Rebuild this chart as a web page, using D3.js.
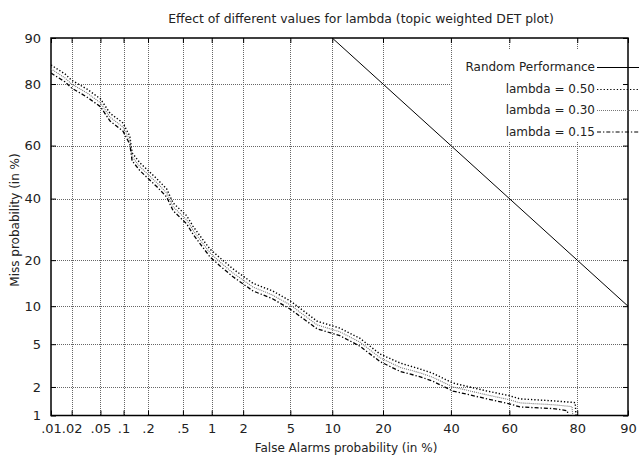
<!DOCTYPE html>
<html>
<head>
<meta charset="utf-8">
<script src="https://cdn.jsdelivr.net/npm/d3@7/dist/d3.min.js"></script>
<style>
  body { margin: 0; background: #fff; }
  svg text { font-family: "DejaVu Sans", sans-serif; font-size: 12px; fill: #222; }
</style>
</head>
<body>
<div id="chart"></div>
<script>
// DET plot, probit (normal deviate) scales on both axes

// Data (percent values)
// ==========================================
var faTicks = [0.01, 0.02, 0.05, 0.1, 0.2, 0.5, 1, 2, 5, 10, 20, 40, 60, 80, 90];
var faLabels = [".01", ".02", ".05", ".1", ".2", ".5", "1", "2", "5", "10", "20", "40", "60", "80", "90"];
var missTicks = [1, 2, 5, 10, 20, 40, 60, 80, 90];
var missLabels = ["1", "2", "5", "10", "20", "40", "60", "80", "90"];

var seriesNames = ["Random Performance", "lambda = 0.50", "lambda = 0.30", "lambda = 0.15"];

var randomFa = [10, 90];
var randomMiss = [90, 10];

var fa050 = [0.01, 0.016, 0.02, 0.033, 0.05, 0.067, 0.098, 0.12, 0.128, 0.16, 0.255, 0.33, 0.39, 0.55, 0.64, 0.76, 0.96, 1.21, 1.6, 2.45, 3.6, 5, 7.9, 11.2, 14.9, 19.3, 24.4, 30, 34, 40.7, 52, 60, 63.5, 73.6, 79.5, 79.7];
var miss050 = [84.7, 82.6, 81.0, 78.6, 75.8, 71.3, 68.1, 63.4, 57.3, 53.5, 47.4, 43.6, 38.4, 33.8, 30.3, 27.1, 23.1, 20.6, 17.8, 14.4, 12.8, 10.9, 7.7, 6.8, 5.6, 4.1, 3.4, 3.0, 2.73, 2.19, 1.83, 1.63, 1.51, 1.44, 1.38, 1.0];

var fa030 = [0.01, 0.016, 0.02, 0.033, 0.05, 0.067, 0.098, 0.12, 0.128, 0.16, 0.255, 0.33, 0.39, 0.55, 0.64, 0.76, 0.96, 1.21, 1.6, 2.45, 3.6, 5, 7.9, 11.2, 14.9, 19.3, 24.4, 30, 34, 40.7, 52, 60, 63.5, 73.6, 78.7, 78.9];
var miss030 = [83.8, 81.6, 80, 77.5, 74.6, 70, 66.7, 62, 55.8, 52, 45.9, 42.1, 37, 32.4, 29, 25.9, 22, 19.5, 16.8, 13.6, 12, 10.2, 7.2, 6.35, 5.2, 3.8, 3.1, 2.76, 2.5, 2.0, 1.67, 1.48, 1.37, 1.31, 1.25, 1.0];

var fa015 = [0.01, 0.016, 0.02, 0.033, 0.05, 0.067, 0.098, 0.12, 0.128, 0.16, 0.255, 0.33, 0.39, 0.55, 0.64, 0.76, 0.96, 1.21, 1.6, 2.45, 3.6, 5, 7.9, 11.2, 14.9, 19.3, 24.4, 30, 34, 40.7, 52, 60, 63.5, 73.6, 77.5, 77.7];
var miss015 = [82.8, 80.6, 78.9, 76.3, 73.4, 68.7, 65.3, 60.5, 54.3, 50.5, 44.4, 40.6, 35.6, 31.0, 27.7, 24.7, 20.9, 18.5, 15.9, 12.8, 11.3, 9.5, 6.7, 5.9, 4.8, 3.5, 2.84, 2.53, 2.29, 1.82, 1.52, 1.34, 1.24, 1.19, 1.13, 1.0];

// Inverse normal CDF (Acklam)
function probit(p) {
    var a = [-3.969683028665376e+01, 2.209460984245205e+02, -2.759285104469687e+02, 1.383577518672690e+02, -3.066479806614716e+01, 2.506628277459239e+00];
    var b = [-5.447609879822406e+01, 1.615858368580409e+02, -1.556989798598866e+02, 6.680131188771972e+01, -1.328068155288572e+01];
    var c = [-7.784894002430293e-03, -3.223964580411365e-01, -2.400758277161838e+00, -2.549732539343734e+00, 4.374664141464968e+00, 2.938163982698783e+00];
    var d = [7.784695709041462e-03, 3.224671290700398e-01, 2.445134137142996e+00, 3.754408661907416e+00];
    var q, r;
    if (p < 0.02425) {
        q = Math.sqrt(-2 * Math.log(p));
        return (((((c[0]*q+c[1])*q+c[2])*q+c[3])*q+c[4])*q+c[5]) / ((((d[0]*q+d[1])*q+d[2])*q+d[3])*q+1);
    }
    if (p > 1 - 0.02425) {
        q = Math.sqrt(-2 * Math.log(1 - p));
        return -(((((c[0]*q+c[1])*q+c[2])*q+c[3])*q+c[4])*q+c[5]) / ((((d[0]*q+d[1])*q+d[2])*q+d[3])*q+1);
    }
    q = p - 0.5; r = q * q;
    return (((((a[0]*r+a[1])*r+a[2])*r+a[3])*r+a[4])*r+a[5])*q / (((((b[0]*r+b[1])*r+b[2])*r+b[3])*r+b[4])*r+1);
}
function pz(pct) { return probit(pct / 100); }

// Layout
var width = 639, height = 455;
var padL = 51, padR = 628, padT = 38, padB = 415.5;

var svg = d3.select("#chart").append("svg")
    .attr("width", width)
    .attr("height", height);

var x = d3.scaleLinear().domain([pz(0.01), pz(90)]).range([padL, padR]);
var y = d3.scaleLinear().domain([pz(1), pz(90)]).range([padB, padT]);

// Grid
svg.append("g").selectAll("line")
    .data(faTicks.slice(1, -1))
    .enter().append("line")
    .attr("x1", d => Math.round(x(pz(d))) + 0.5).attr("x2", d => Math.round(x(pz(d))) + 0.5)
    .attr("y1", padT).attr("y2", padB)
    .attr("stroke", "#666").attr("stroke-dasharray", "1,1");
svg.append("g").selectAll("line")
    .data(missTicks.slice(1, -1))
    .enter().append("line")
    .attr("y1", d => Math.round(y(pz(d))) + 0.5).attr("y2", d => Math.round(y(pz(d))) + 0.5)
    .attr("x1", padL).attr("x2", padR)
    .attr("stroke", "#666").attr("stroke-dasharray", "1,1");

// key box hides the grid behind the legend
svg.append("rect")
    .attr("x", 452).attr("y", 50)
    .attr("width", padR - 452).attr("height", 92)
    .attr("fill", "#fff");

// Axes, ticks pointing inward
var fmtX = v => faLabels[faTicks.findIndex(t => Math.abs(pz(t) - v) < 1e-9)];
var fmtY = v => missLabels[missTicks.findIndex(t => Math.abs(pz(t) - v) < 1e-9)];

var xAxis = svg.append("g").attr("transform", "translate(0," + padB + ")")
    .call(d3.axisBottom(x).tickValues(faTicks.map(pz)).tickFormat(fmtX).tickSize(-5).tickPadding(8));
var xAxisTop = svg.append("g").attr("transform", "translate(0," + padT + ")")
    .call(d3.axisTop(x).tickValues(faTicks.map(pz)).tickFormat("").tickSize(-5));
var yAxis = svg.append("g").attr("transform", "translate(" + padL + ",0)")
    .call(d3.axisLeft(y).tickValues(missTicks.map(pz)).tickFormat(fmtY).tickSize(-5).tickPadding(10));
var yAxisRight = svg.append("g").attr("transform", "translate(" + padR + ",0)")
    .call(d3.axisRight(y).tickValues(missTicks.map(pz)).tickFormat("").tickSize(-5));

[xAxis, xAxisTop, yAxis, yAxisRight].forEach(function(g) {
    g.select(".domain").remove();
    g.selectAll(".tick line").attr("stroke", "#000");
    g.selectAll("text").attr("fill", "#222")
        .style("font-family", "'DejaVu Sans', sans-serif").style("font-size", "13px");
});

// Frame
svg.append("rect")
    .attr("x", padL).attr("y", padT)
    .attr("width", padR - padL).attr("height", padB - padT)
    .attr("fill", "none").attr("stroke", "#000").attr("stroke-width", 1.5);

// Curves
svg.append("clipPath").attr("id", "plotclip")
    .append("rect").attr("x", padL).attr("y", padT).attr("width", padR - padL).attr("height", padB - padT);

var line = d3.line().x(d => x(pz(d[0]))).y(d => y(pz(d[1])));
var styles = [
    { dash: null, color: "#000", w: 1 },
    { dash: "1.3,2", color: "#000", w: 1.4 },
    { dash: "1,1", color: "#777", w: 1.1 },
    { dash: "4,2,1.3,2", color: "#000", w: 1.3 }
];
var series = [
    d3.zip(randomFa, randomMiss),
    d3.zip(fa050, miss050),
    d3.zip(fa030, miss030),
    d3.zip(fa015, miss015)
];

var plot = svg.append("g").attr("clip-path", "url(#plotclip)");
series.forEach(function(s, i) {
    plot.append("path")
        .datum(s)
        .attr("d", line)
        .attr("fill", "none")
        .attr("stroke", styles[i].color)
        .attr("stroke-width", styles[i].w)
        .attr("stroke-dasharray", styles[i].dash);
});

// Legend
var legendY = [67, 89, 110, 131.5];
seriesNames.forEach(function(name, i) {
    svg.append("text")
        .attr("x", 595).attr("y", legendY[i])
        .attr("dy", "0.35em")
        .attr("text-anchor", "end")
        .text(name);
    svg.append("line")
        .attr("x1", 597).attr("x2", 660)
        .attr("y1", legendY[i] + 0.5).attr("y2", legendY[i] + 0.5)
        .attr("stroke", styles[i].color)
        .attr("stroke-width", i === 0 ? 1 : 1.1)
        .attr("stroke-dasharray", styles[i].dash);
});

// Titles
svg.append("text")
    .attr("x", 361).attr("y", 23)
    .attr("text-anchor", "middle")
    .style("font-size", "12.4px")
    .text("Effect of different values for lambda (topic weighted DET plot)");

svg.append("text")
    .attr("x", 346).attr("y", 452)
    .attr("text-anchor", "middle")
    .text("False Alarms probability (in %)");

svg.append("text")
    .attr("transform", "translate(19,220)rotate(-90)")
    .attr("text-anchor", "middle")
    .text("Miss probability (in %)");
</script>
</body>
</html>
